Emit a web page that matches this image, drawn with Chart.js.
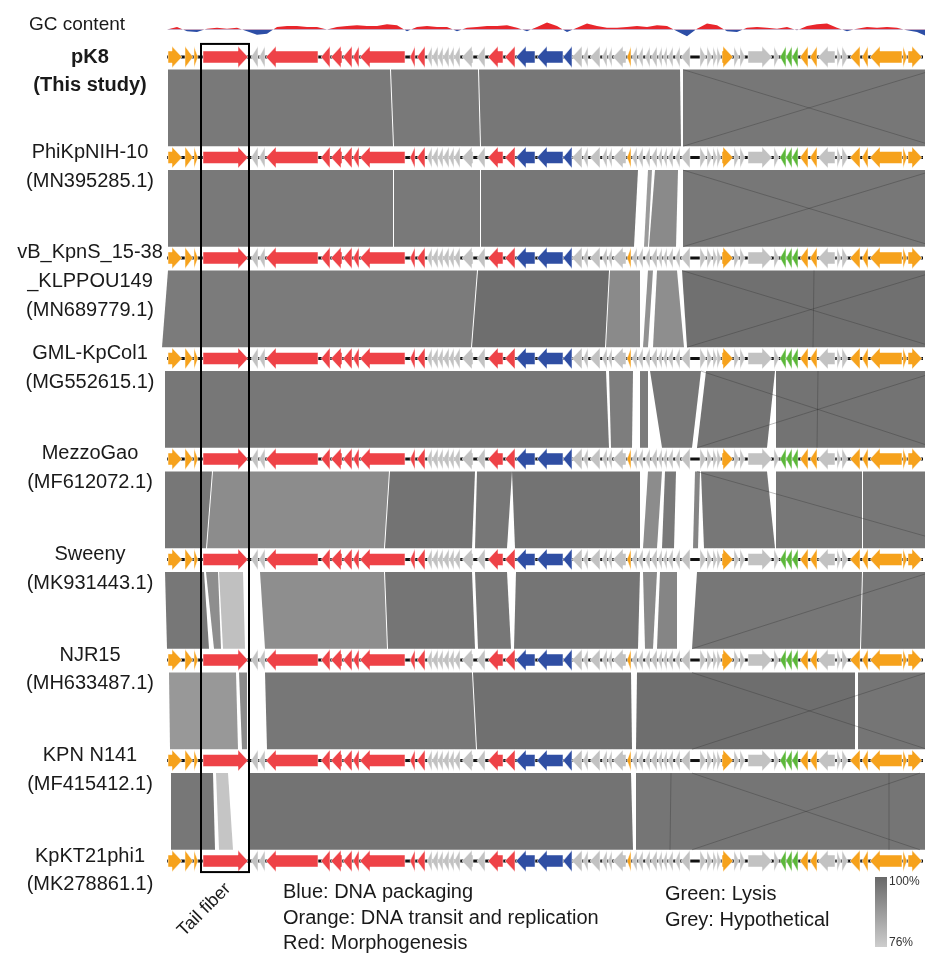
<!DOCTYPE html>
<html>
<head>
<meta charset="utf-8">
<script src="https://cdn.jsdelivr.net/npm/chart.js@4.4.0/dist/chart.umd.min.js"></script>
<style>
  html, body { margin: 0; padding: 0; background: #fff; }
  canvas { display: block; }
</style>
</head>
<body>
<canvas id="c" width="925" height="955"></canvas>
<script>
// genomes, top to bottom (label lines)
const genomeLabels = [
  ['pK8', '(This study)'],
  ['PhiKpNIH-10', '(MN395285.1)'],
  ['vB_KpnS_15-38', '_KLPPOU149', '(MN689779.1)'],
  ['GML-KpCol1', '(MG552615.1)'],
  ['MezzoGao', '(MF612072.1)'],
  ['Sweeny', '(MK931443.1)'],
  ['NJR15', '(MH633487.1)'],
  ['KPN N141', '(MF415412.1)'],
  ['KpKT21phi1', '(MK278861.1)']
];

// ORFs in kb: [start, end, strand, group]
// O = DNA transit/replication, R = morphogenesis, G = hypothetical, B = DNA packaging, L = lysis
const genes = [
  [0.05,0.75,1,'O'],[0.9,1.3,1,'O'],[1.35,1.55,1,'O'],[1.8,4.05,1,'R'],
  [4.2,4.55,-1,'G'],[4.6,4.9,-1,'G'],[4.95,7.55,-1,'R'],[7.7,8.15,-1,'R'],[8.2,8.75,-1,'R'],
  [8.8,9.25,-1,'R'],[9.3,9.6,-1,'R'],[9.65,11.9,-1,'R'],[12.15,12.4,-1,'R'],[12.5,12.9,-1,'R'],
  [13.0,13.25,-1,'G'],[13.25,13.55,-1,'G'],[13.55,13.8,-1,'G'],[13.8,14.1,-1,'G'],[14.1,14.35,-1,'G'],
  [14.35,14.65,-1,'G'],[14.75,15.3,-1,'G'],[15.5,15.9,-1,'G'],
  [16.05,16.8,-1,'R'],[16.9,17.4,-1,'R'],[17.45,18.4,-1,'B'],[18.5,19.8,-1,'B'],[19.8,20.25,-1,'B'],
  [20.25,20.75,-1,'G'],[20.8,21.05,-1,'G'],[21.15,21.65,-1,'G'],[21.75,22.0,-1,'G'],[22.05,22.25,-1,'G'],
  [22.3,22.95,-1,'G'],[23.0,23.2,-1,'O'],[23.25,23.5,-1,'G'],[23.55,23.8,-1,'G'],[23.9,24.15,-1,'G'],
  [24.2,24.5,-1,'G'],[24.55,24.75,-1,'G'],[24.8,25.0,-1,'G'],[25.05,25.3,-1,'G'],[25.4,25.65,-1,'G'],
  [25.7,26.15,-1,'G'],
  [26.65,26.95,1,'G'],[27.0,27.25,1,'G'],[27.3,27.5,1,'G'],[27.5,27.7,1,'G'],[27.75,28.3,1,'O'],
  [28.35,28.6,1,'G'],[28.65,28.9,1,'G'],[29.05,30.25,1,'G'],[30.35,30.6,1,'G'],
  [30.65,30.95,-1,'L'],[30.95,31.25,-1,'L'],[31.25,31.55,-1,'L'],[31.65,32.05,-1,'O'],[32.15,32.5,-1,'O'],
  [32.55,33.4,-1,'G'],[33.5,33.7,1,'G'],[33.75,34.05,1,'G'],[34.15,34.65,-1,'O'],[34.75,35.05,-1,'O'],
  [35.15,36.75,-1,'O'],[36.8,37.0,1,'O'],[37.05,37.75,1,'O']
];
const genomeEndKb = 37.8;

// blastn links between neighbouring genomes, in kb:
// [top start, top end, bottom start, bottom end, identity %]
const links = [
  [[0.05,11.15,0.05,11.3,96],[11.2,15.55,11.35,15.65,96],[15.6,25.65,15.7,25.7,96.5],[25.8,38,25.8,38,96.5]],
  [[0.05,11.3,0.05,11.3,96],[11.35,15.65,11.35,15.65,96],[15.7,23.55,15.7,23.35,96.5],
   [24.05,24.25,23.85,24.05,88],[24.4,25.55,24.1,25.45,92],[25.8,38,25.8,38,96.5]],
  [[0.05,15.5,-0.25,15.2,95.5],[15.55,22.1,15.25,21.9,98.5],[22.15,23.65,21.95,23.65,92],
   [24.05,24.3,23.8,24.05,90],[24.5,25.5,24.3,25.85,91],[25.75,38,26.0,38,98]],
  [[-0.1,21.95,-0.1,22.1,96.5],[22.1,23.3,22.2,23.25,95],[23.65,24.05,23.65,24.05,95.5],
   [24.15,26.7,24.75,26.25,96.5],[26.95,30.4,26.5,30.0,97.5],[30.45,38,30.45,38,97.5]],
  [[-0.1,2.25,-0.1,1.95,96.5],[2.3,11.1,2.0,10.85,91.5],[11.15,15.4,10.9,15.25,97.5],
   [15.5,17.25,15.4,17.0,96.5],[17.25,23.65,17.4,23.65,97.5],[24.05,24.75,23.8,24.5,91.5],
   [24.9,25.45,24.75,25.35,96],[26.4,26.65,26.3,26.55,93],[26.7,30.0,26.85,30.4,96.5],
   [30.45,34.75,30.45,34.75,96.5],[34.8,38,34.8,38,96.5]],
  [[-0.1,1.85,0,2.1,96.5],[1.95,2.55,2.35,2.7,91],[2.6,3.8,2.8,3.9,79],[4.65,10.85,4.9,11.0,91],
   [10.9,15.25,11.05,15.4,97],[15.4,17.0,15.55,17.2,96.5],[17.45,23.65,17.35,23.55,97],
   [23.8,24.5,23.9,24.3,92],[24.65,25.5,24.5,25.5,93],[26.5,34.75,26.25,34.65,96.5],[34.8,38,34.7,38,96.5]],
  [[0.1,3.45,0.15,3.55,88.5],[3.6,4.0,3.75,4.0,92],[4.9,15.25,5.0,15.45,96.5],
   [15.3,23.2,15.5,23.25,98],[23.5,34.4,23.45,34.4,98.5],[34.55,38,34.55,38,97]],
  [[0.2,2.3,0.2,2.4,96.5],[2.45,3.05,2.6,3.3,78],[4.05,23.2,4.05,23.3,97.5],[23.45,38,23.45,38,97]]
];
// thin inversion / overlap lines inside the links: [top kb, bottom kb]
const linkLines = [
  [[25.8,38.4],[38.4,25.8]],
  [[25.8,38.4],[38.4,25.8]],
  [[25.75,38.4],[38.6,26.0],[32.35,32.3]],
  [[26.7,38.4],[38.6,26.5],[32.55,32.5]],
  [[26.5,40.05]],
  [[38.2,26.25]],
  [[26.25,38.0],[38.0,26.25]],
  [[26.25,37.65],[37.65,26.25],[25.2,25.15],[36.1,36.1]]
];

// GC content, deviation from genome mean (%), sampled every 0.5 kb from 0 kb
const gcStepKb = 0.5;
const gcDeviation = [
  0, 1.2, -0.8, -1.2, 0.4, 0.8, 0.4, 0.8, -0.8, -2.4, -2.0, 1.2, 1.6, 1.6, 1.2, 1.2,
  0, 1.2, 1.6, 2.0, 1.6, 1.6, 2.4, 2.0, -0.8, 1.2, 1.6, 1.2, 1.2, -0.8, 0.8, 1.2,
  1.6, 1.6, 2.0, 0.8, -0.8, 1.2, 3.2, 1.6, -1.2, 0.8, 2.8, 1.6, 0.8, 0.8, 1.2, 1.6,
  1.2, 2.0, 1.6, -0.8, -3.2, 0.4, 2.8, 2.0, -0.8, -1.2, 0.8, 1.2, 0.8, 0.4, 1.2, -0.4,
  1.6, 2.4, 2.8, 0.8, -0.8, 0.4, 1.2, 0.8, 1.2, 0.8, -0.4, -1.2, -3.2
];

const groupColors = { O: '#f6a21c', R: '#ee4247', G: '#c2c2c2', B: '#2f4ea3', L: '#5cb83a' };
const legendLeft = ['Blue: DNA packaging', 'Orange: DNA transit and replication', 'Red: Morphogenesis'];
const legendRight = ['Green: Lysis', 'Grey: Hypothetical'];
const identityRange = [76, 100];
const tailFiberKb = [1.7, 4.1];

const FONT = '"Liberation Sans", Arial, Helvetica, sans-serif';

function identityGrey(id) {
  const t = (identityRange[1] - id) / (identityRange[1] - identityRange[0]);
  const v = Math.round(104 + t * 101);
  return `rgb(${v},${v},${v})`;
}

function drawArrow(ctx, x0, x1, strand, yc, hh, bh) {
  const len = x1 - x0;
  const hl = Math.min(10, len);
  ctx.beginPath();
  if (strand > 0) {
    if (len <= hl + 0.5) {
      ctx.moveTo(x0, yc - hh); ctx.lineTo(x1, yc); ctx.lineTo(x0, yc + hh);
    } else {
      ctx.moveTo(x0, yc - bh); ctx.lineTo(x1 - hl, yc - bh); ctx.lineTo(x1 - hl, yc - hh);
      ctx.lineTo(x1, yc); ctx.lineTo(x1 - hl, yc + hh); ctx.lineTo(x1 - hl, yc + bh); ctx.lineTo(x0, yc + bh);
    }
  } else {
    if (len <= hl + 0.5) {
      ctx.moveTo(x1, yc - hh); ctx.lineTo(x0, yc); ctx.lineTo(x1, yc + hh);
    } else {
      ctx.moveTo(x1, yc - bh); ctx.lineTo(x0 + hl, yc - bh); ctx.lineTo(x0 + hl, yc - hh);
      ctx.lineTo(x0, yc); ctx.lineTo(x0 + hl, yc + hh); ctx.lineTo(x0 + hl, yc + bh); ctx.lineTo(x1, yc + bh);
    }
  }
  ctx.closePath();
  ctx.fill();
  ctx.stroke();
}

const diagram = {
  id: 'diagram',
  beforeDatasetsDraw(chart) {
    const { ctx, scales: { x, y } } = chart;
    ctx.save();
    // similarity links
    links.forEach((band, i) => {
      const yt = y.getPixelForValue(i + 0.125);
      const yb = y.getPixelForValue(i + 1 - 0.112);
      band.forEach(([t0, t1, b0, b1, id]) => {
        ctx.fillStyle = identityGrey(id);
        ctx.beginPath();
        ctx.moveTo(x.getPixelForValue(t0), yt);
        ctx.lineTo(x.getPixelForValue(t1), yt);
        ctx.lineTo(x.getPixelForValue(b1), yb);
        ctx.lineTo(x.getPixelForValue(b0), yb);
        ctx.closePath();
        ctx.fill();
      });
      ctx.strokeStyle = 'rgba(45,45,45,0.4)';
      ctx.lineWidth = 0.8;
      linkLines[i].forEach(([t, b]) => {
        ctx.beginPath();
        ctx.moveTo(x.getPixelForValue(t), yt);
        ctx.lineTo(x.getPixelForValue(b), yb);
        ctx.stroke();
      });
    });
    // genome tracks
    genomeLabels.forEach((_, t) => {
      const yc = y.getPixelForValue(t);
      const hh = yc - y.getPixelForValue(t - 0.106);
      const bh = yc - y.getPixelForValue(t - 0.06);
      ctx.fillStyle = '#111';
      ctx.fillRect(x.getPixelForValue(0), yc - 1.5, x.getPixelForValue(genomeEndKb) - x.getPixelForValue(0), 3);
      ctx.strokeStyle = 'rgba(255,255,255,0.85)';
      ctx.lineWidth = 0.6;
      genes.forEach(([s, e, strand, g]) => {
        ctx.fillStyle = groupColors[g];
        drawArrow(ctx, x.getPixelForValue(s), x.getPixelForValue(e), strand, yc, hh, bh);
      });
    });
    ctx.restore();
  },
  afterDatasetsDraw(chart) {
    const { ctx, scales: { x, y, yGC } } = chart;
    ctx.save();
    // tail fiber box
    const bx0 = x.getPixelForValue(tailFiberKb[0]);
    const bx1 = x.getPixelForValue(tailFiberKb[1]);
    const by0 = y.getPixelForValue(-0.13);
    const by1 = y.getPixelForValue(8.11);
    ctx.strokeStyle = '#000';
    ctx.lineWidth = 2;
    ctx.strokeRect(bx0, by0, bx1 - bx0, by1 - by0);

    ctx.fillStyle = '#1a1a1a';
    ctx.textBaseline = 'middle';
    // tail fiber label
    ctx.save();
    ctx.translate(bx1 - 21, by1 + 14);
    ctx.rotate(-Math.PI / 4);
    ctx.textAlign = 'right';
    ctx.font = `18px ${FONT}`;
    ctx.fillText('Tail fiber', 0, 0);
    ctx.restore();

    // left labels
    ctx.textAlign = 'center';
    ctx.font = `19px ${FONT}`;
    ctx.fillText('GC content', 77, yGC.getPixelForValue(0) - 5);
    genomeLabels.forEach((lines, t) => {
      ctx.font = (t === 0 ? 'bold ' : '') + `20px ${FONT}`;
      lines.forEach((s, k) => {
        const off = t === 0 ? 0 : -0.05;
        ctx.fillText(s, 90, y.getPixelForValue(t + off + k * 0.285));
      });
    });

    // category legend
    ctx.textAlign = 'left';
    ctx.textBaseline = 'alphabetic';
    ctx.font = `20px ${FONT}`;
    legendLeft.forEach((s, k) => ctx.fillText(s, 283, 898 + k * 25.5));
    legendRight.forEach((s, k) => ctx.fillText(s, 665, 900 + k * 25.5));

    // identity scale bar
    const grad = ctx.createLinearGradient(0, 877, 0, 947);
    grad.addColorStop(0, identityGrey(identityRange[1]));
    grad.addColorStop(1, identityGrey(identityRange[0]));
    ctx.fillStyle = grad;
    ctx.fillRect(875, 877, 12, 70);
    ctx.fillStyle = '#333';
    ctx.font = `12px ${FONT}`;
    ctx.textBaseline = 'middle';
    ctx.fillText(identityRange[1] + '%', 889, 882);
    ctx.fillText(identityRange[0] + '%', 889, 943);
    ctx.restore();
  }
};

new Chart(document.getElementById('c'), {
  type: 'line',
  data: {
    datasets: [{
      label: 'GC content',
      data: gcDeviation.map((v, i) => ({ x: i * gcStepKb, y: v })),
      xAxisID: 'x',
      yAxisID: 'yGC',
      borderWidth: 0,
      borderColor: 'rgba(0,0,0,0)',
      pointRadius: 0,
      tension: 0,
      fill: { target: { value: 0 }, above: '#e8262c', below: '#2d4ea6' }
    }]
  },
  options: {
    responsive: false,
    animation: false,
    devicePixelRatio: 1,
    layout: { padding: 0 },
    plugins: { legend: { display: false }, tooltip: { enabled: false } },
    scales: {
      x: { type: 'linear', min: -8.35, max: 37.9, display: false },
      y: { type: 'linear', min: -0.567, max: 8.935, reverse: true, display: false },
      yGC: { type: 'linear', min: -430, max: 13.7, display: false }
    }
  },
  plugins: [diagram]
});
</script>
</body>
</html>
